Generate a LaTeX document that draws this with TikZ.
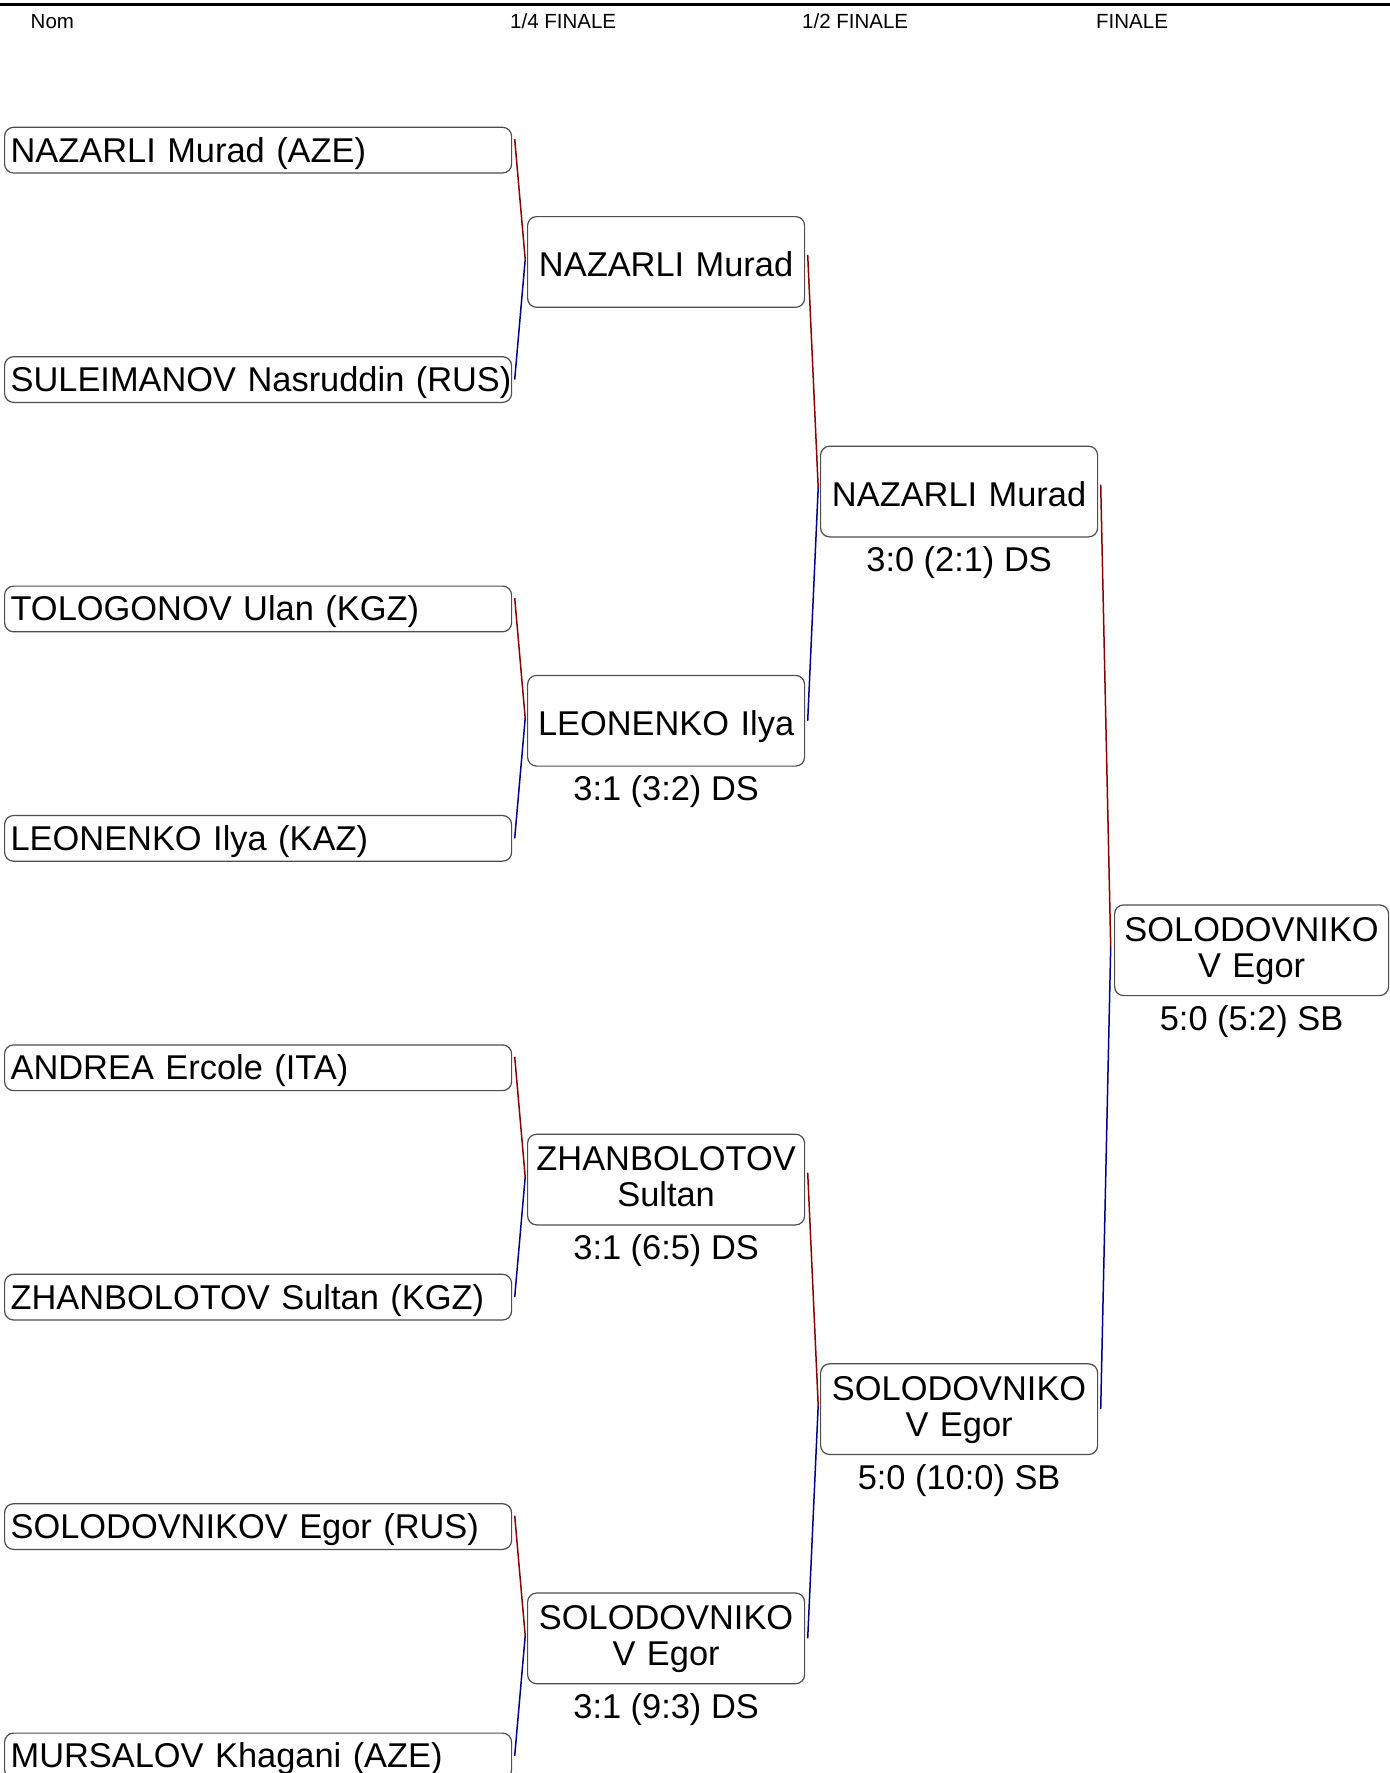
\documentclass[tikz,border=0pt]{standalone}
\usepackage{fontspec}
\setmainfont{Liberation Sans}
\usetikzlibrary{calc}
\definecolor{winred}{HTML}{8B0000}
\definecolor{loseblue}{HTML}{00008B}
\definecolor{boxgray}{HTML}{4D4D4D}

\begin{document}
\begin{tikzpicture}[
    x=1pt, y=-1pt,
    head/.style={anchor=base west, inner sep=0pt, font=\fontsize{20.5}{24}\selectfont},
    seed/.style={draw=boxgray, line width=1.2pt, rounded corners=9pt, anchor=north west, text width=495pt, inner xsep=6pt, inner ysep=0pt, minimum height=45.7pt, text height=25.5pt, text depth=1.5pt, align=left, font=\fontsize{34.4}{36.7}\selectfont, execute at begin node={\leavevmode\hbox\bgroup}, execute at end node={\egroup}},
    win/.style={draw=boxgray, line width=1.2pt, rounded corners=9pt, anchor=north west, text width=269pt, inner xsep=4pt, inner ysep=0pt, minimum height=90.7pt, text height=32pt, text depth=2.7pt, align=center, font=\fontsize{34.4}{36}\selectfont},
    twoline/.style={text height=25.5pt, text depth=43pt},
    score/.style={anchor=base, inner sep=0pt, font=\fontsize{34.4}{36.7}\selectfont},
    redline/.style={winred, line width=1.5pt},
    blueline/.style={loseblue, line width=1.5pt}
]
\useasboundingbox (0,0) rectangle (1390,1773);

% En-tete
\draw[line width=2.5pt] (0,4.5) -- (1390,4.5);
\node[head] (hName) at (30.5,28) {Nom};
\node[head] (hQuarter) at (510,28) {1/4 FINALE};
\node[head] (hSemi) at (802,28) {1/2 FINALE};
\node[head] (hFinal) at (1096,28) {FINALE};

% Tableau
\node[seed] (s1) at (4,126.7) {NAZARLI Murad (AZE)};
\node[seed] (s2) at (4,356.1) {SULEIMANOV Nasruddin (RUS)};
\node[seed] (s3) at (4,585.5) {TOLOGONOV Ulan (KGZ)};
\node[seed] (s4) at (4,814.9) {LEONENKO Ilya (KAZ)};
\node[seed] (s5) at (4,1044.3) {ANDREA Ercole (ITA)};
\node[seed] (s6) at (4,1273.7) {ZHANBOLOTOV Sultan (KGZ)};
\node[seed] (s7) at (4,1503.1) {SOLODOVNIKOV Egor (RUS)};
\node[seed] (s8) at (4,1732.5) {MURSALOV Khagani (AZE)};

% 1/4 finale
\node[win] (q1) at (527,216) {NAZARLI Murad};
\node[win] (q2) at (527,674.8) {LEONENKO Ilya};
\node[win, twoline] (q3) at (527,1133.6) {ZHANBOLOTOV\\Sultan};
\node[win, twoline] (q4) at (527,1592.4) {SOLODOVNIKO\\V Egor};
\node[score] (c2) at ([yshift=-34pt]q2.south) {3:1 (3:2) DS};
\node[score] (c3) at ([yshift=-34pt]q3.south) {3:1 (6:5) DS};
\node[score] (c4) at ([yshift=-34pt]q4.south) {3:1 (9:3) DS};

% 1/2 finale
\node[win] (h1) at (820,445.6) {NAZARLI Murad};
\node[win, twoline] (h2) at (820,1363.2) {SOLODOVNIKO\\V Egor};
\node[score] (d1) at ([yshift=-34pt]h1.south) {3:0 (2:1) DS};
\node[score] (d2) at ([yshift=-34pt]h2.south) {5:0 (10:0) SB};

% Finale
\node[win, twoline, text width=266pt] (f1) at (1114,904.3) {SOLODOVNIKO\\V Egor};
\node[score] (e1) at ([yshift=-34pt]f1.south) {5:0 (5:2) SB};

% Liaisons
\coordinate (j1) at ($([xshift=2.5pt,yshift=11pt]s1.east)!0.5!([xshift=2.5pt]s2.east)+(10.5pt,0)$);
\draw[redline] ([xshift=2.5pt,yshift=11pt]s1.east) -- (j1);
\draw[blueline] (j1) -- ([xshift=2.5pt]s2.east);
\coordinate (j2) at ($([xshift=2.5pt,yshift=11pt]s3.east)!0.5!([xshift=2.5pt]s4.east)+(10.5pt,0)$);
\draw[redline] ([xshift=2.5pt,yshift=11pt]s3.east) -- (j2);
\draw[blueline] (j2) -- ([xshift=2.5pt]s4.east);
\coordinate (j3) at ($([xshift=2.5pt,yshift=11pt]s5.east)!0.5!([xshift=2.5pt]s6.east)+(10.5pt,0)$);
\draw[redline] ([xshift=2.5pt,yshift=11pt]s5.east) -- (j3);
\draw[blueline] (j3) -- ([xshift=2.5pt]s6.east);
\coordinate (j4) at ($([xshift=2.5pt,yshift=11pt]s7.east)!0.5!([xshift=2.5pt]s8.east)+(10.5pt,0)$);
\draw[redline] ([xshift=2.5pt,yshift=11pt]s7.east) -- (j4);
\draw[blueline] (j4) -- ([xshift=2.5pt]s8.east);

\coordinate (k1) at ($([xshift=2.5pt,yshift=7pt]q1.east)!0.5!([xshift=2.5pt]q2.east)+(10.5pt,0)$);
\draw[redline] ([xshift=2.5pt,yshift=7pt]q1.east) -- (k1);
\draw[blueline] (k1) -- ([xshift=2.5pt]q2.east);
\coordinate (k2) at ($([xshift=2.5pt,yshift=7pt]q3.east)!0.5!([xshift=2.5pt]q4.east)+(10.5pt,0)$);
\draw[redline] ([xshift=2.5pt,yshift=7pt]q3.east) -- (k2);
\draw[blueline] (k2) -- ([xshift=2.5pt]q4.east);

\coordinate (m1) at ($([xshift=2.5pt,yshift=7pt]h1.east)!0.5!([xshift=2.5pt]h2.east)+(10pt,0)$);
\draw[redline] ([xshift=2.5pt,yshift=7pt]h1.east) -- (m1);
\draw[blueline] (m1) -- ([xshift=2.5pt]h2.east);
\end{tikzpicture}
\end{document}
